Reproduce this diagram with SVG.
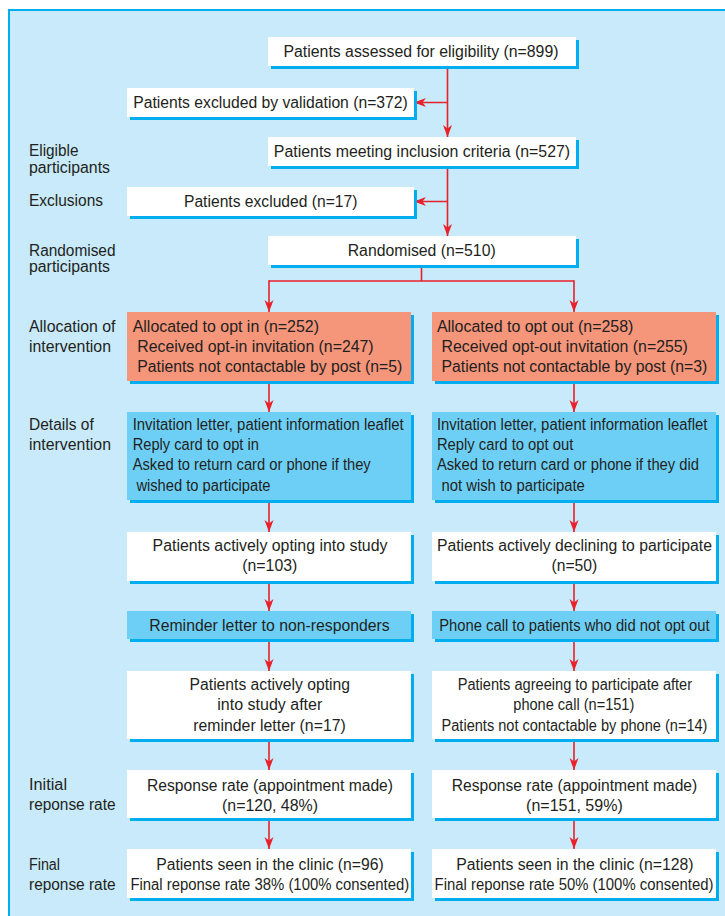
<svg xmlns="http://www.w3.org/2000/svg" width="725" height="916" viewBox="0 0 725 916">
<defs>
<style>
text{font-family:"Liberation Sans",Arial,sans-serif;font-size:16px;fill:#231f20}
.c{text-anchor:middle}
.sh{fill:#00aeef}
.w{fill:#ffffff}
.o{fill:#f5957a}
.b{fill:#6dcff6}
.ln{fill:none;stroke:#e8212b;stroke-width:1.6}
.ar{marker-end:url(#ah)}
</style>
<marker id="ah" viewBox="-13 -5 14 10" refX="0" refY="0" markerWidth="14" markerHeight="10" markerUnits="userSpaceOnUse" orient="auto">
<path d="M-12,-4.5 L0,0 L-12,4.5 L-8.5,0 z" fill="#e8212b"/>
</marker>
</defs>
<rect x="9" y="10" width="720" height="912" fill="#c8eafa" stroke="#00aeef" stroke-width="2"/>

<g id="labels">
<text x="29" y="155.5" textLength="49.5" lengthAdjust="spacingAndGlyphs">Eligible</text>
<text x="29" y="173" textLength="81" lengthAdjust="spacingAndGlyphs">participants</text>
<text x="29" y="206" textLength="74" lengthAdjust="spacingAndGlyphs">Exclusions</text>
<text x="29" y="255.5" textLength="86.5" lengthAdjust="spacingAndGlyphs">Randomised</text>
<text x="29" y="272" textLength="81" lengthAdjust="spacingAndGlyphs">participants</text>
<text x="29" y="331.5" textLength="86.5" lengthAdjust="spacingAndGlyphs">Allocation of</text>
<text x="29" y="351.5" textLength="82" lengthAdjust="spacingAndGlyphs">intervention</text>
<text x="29" y="429.5" textLength="64.7" lengthAdjust="spacingAndGlyphs">Details of</text>
<text x="29" y="450" textLength="82" lengthAdjust="spacingAndGlyphs">intervention</text>
<text x="29" y="789.5" textLength="38" lengthAdjust="spacingAndGlyphs">Initial</text>
<text x="29" y="809.5" textLength="86.5" lengthAdjust="spacingAndGlyphs">reponse rate</text>
<text x="29" y="869.5" textLength="31" lengthAdjust="spacingAndGlyphs">Final</text>
<text x="29" y="889.5" textLength="86.5" lengthAdjust="spacingAndGlyphs">reponse rate</text>
</g>

<g id="connectors">
<path class="ln ar" d="M447.5,66 V137"/>
<path class="ln ar" d="M447.5,102.5 H414"/>
<path class="ln ar" d="M447.5,166 V236"/>
<path class="ln ar" d="M447.5,201.5 H414"/>
<path class="ln" d="M421.5,265 V281 M269,281 H574"/>
<path class="ln ar" d="M269,280.2 V312"/>
<path class="ln ar" d="M574,280.2 V312"/>
<path class="ln ar" d="M269,381 V412"/>
<path class="ln ar" d="M574,381 V412"/>
<path class="ln ar" d="M269,500 V532"/>
<path class="ln ar" d="M574,500 V532"/>
<path class="ln ar" d="M269,581 V611"/>
<path class="ln ar" d="M574,581 V611"/>
<path class="ln ar" d="M269,639 V671"/>
<path class="ln ar" d="M574,639 V671"/>
<path class="ln ar" d="M269,739 V770"/>
<path class="ln ar" d="M574,739 V770"/>
<path class="ln ar" d="M269,818 V849"/>
<path class="ln ar" d="M574,818 V849"/>
</g>

<g id="n-assessed">
<rect class="sh" x="271" y="40" width="308" height="29"/>
<rect class="w" x="268" y="37" width="308" height="29"/>
<text class="c" x="421" y="57" textLength="275" lengthAdjust="spacingAndGlyphs">Patients assessed for eligibility (n=899)</text>
</g>
<g id="n-excl-valid">
<rect class="sh" x="130" y="91" width="287" height="29"/>
<rect class="w" x="127" y="88" width="287" height="29"/>
<text class="c" x="270.5" y="108" textLength="274.6" lengthAdjust="spacingAndGlyphs">Patients excluded by validation (n=372)</text>
</g>
<g id="n-inclusion">
<rect class="sh" x="271" y="140" width="308" height="29"/>
<rect class="w" x="268" y="137" width="308" height="29"/>
<text class="c" x="422" y="157" textLength="296.3" lengthAdjust="spacingAndGlyphs">Patients meeting inclusion criteria (n=527)</text>
</g>
<g id="n-excluded">
<rect class="sh" x="130" y="190" width="287" height="29"/>
<rect class="w" x="127" y="187" width="287" height="29"/>
<text class="c" x="270.7" y="207" textLength="173.4" lengthAdjust="spacingAndGlyphs">Patients excluded (n=17)</text>
</g>
<g id="n-randomised">
<rect class="sh" x="271" y="239" width="308" height="29"/>
<rect class="w" x="268" y="236" width="308" height="29"/>
<text class="c" x="421.7" y="256" textLength="148" lengthAdjust="spacingAndGlyphs">Randomised (n=510)</text>
</g>

<g id="n-alloc-in">
<rect class="sh" x="130" y="315" width="284" height="69"/>
<rect class="o" x="127" y="312" width="284" height="69"/>
<text x="132.7" y="332" textLength="186.3" lengthAdjust="spacingAndGlyphs">Allocated to opt in (n=252)</text>
<text x="137.3" y="352" textLength="236.3" lengthAdjust="spacingAndGlyphs">Received opt-in invitation (n=247)</text>
<text x="137.3" y="372" textLength="265" lengthAdjust="spacingAndGlyphs">Patients not contactable by post (n=5)</text>
</g>
<g id="n-alloc-out">
<rect class="sh" x="435" y="315" width="284" height="69"/>
<rect class="o" x="432" y="312" width="284" height="69"/>
<text x="436.9" y="332" textLength="196.5" lengthAdjust="spacingAndGlyphs">Allocated to opt out (n=258)</text>
<text x="441.5" y="352" textLength="246.4" lengthAdjust="spacingAndGlyphs">Received opt-out invitation (n=255)</text>
<text x="441.5" y="372" textLength="265.8" lengthAdjust="spacingAndGlyphs">Patients not contactable by post (n=3)</text>
</g>

<g id="n-details-in">
<rect class="sh" x="130" y="415" width="284" height="88"/>
<rect class="b" x="127" y="412" width="284" height="88"/>
<text x="132.7" y="429.5" textLength="271" lengthAdjust="spacingAndGlyphs">Invitation letter, patient information leaflet</text>
<text x="132.7" y="450" textLength="126.2" lengthAdjust="spacingAndGlyphs">Reply card to opt in</text>
<text x="132.7" y="470" textLength="238" lengthAdjust="spacingAndGlyphs">Asked to return card or phone if they</text>
<text x="136.4" y="490.5" textLength="134" lengthAdjust="spacingAndGlyphs">wished to participate</text>
</g>
<g id="n-details-out">
<rect class="sh" x="435" y="415" width="284" height="88"/>
<rect class="b" x="432" y="412" width="284" height="88"/>
<text x="436.9" y="429.5" textLength="270.5" lengthAdjust="spacingAndGlyphs">Invitation letter, patient information leaflet</text>
<text x="436.9" y="450" textLength="136.4" lengthAdjust="spacingAndGlyphs">Reply card to opt out</text>
<text x="436.9" y="470" textLength="262" lengthAdjust="spacingAndGlyphs">Asked to return card or phone if they did</text>
<text x="441.5" y="490.5" textLength="143.3" lengthAdjust="spacingAndGlyphs">not wish to participate</text>
</g>

<g id="n-opting">
<rect class="sh" x="130" y="535" width="284" height="49"/>
<rect class="w" x="127" y="532" width="284" height="49"/>
<text class="c" x="270" y="551" textLength="234.9" lengthAdjust="spacingAndGlyphs">Patients actively opting into study</text>
<text class="c" x="269.8" y="571" textLength="55" lengthAdjust="spacingAndGlyphs">(n=103)</text>
</g>
<g id="n-declining">
<rect class="sh" x="435" y="535" width="284" height="49"/>
<rect class="w" x="432" y="532" width="284" height="49"/>
<text class="c" x="574.4" y="551" textLength="275" lengthAdjust="spacingAndGlyphs">Patients actively declining to participate</text>
<text class="c" x="574.4" y="571" textLength="45.8" lengthAdjust="spacingAndGlyphs">(n=50)</text>
</g>

<g id="n-reminder">
<rect class="sh" x="130" y="614" width="284" height="28"/>
<rect class="b" x="127" y="611" width="284" height="28"/>
<text class="c" x="269.5" y="631" textLength="240.4" lengthAdjust="spacingAndGlyphs">Reminder letter to non-responders</text>
</g>
<g id="n-phonecall">
<rect class="sh" x="435" y="614" width="284" height="28"/>
<rect class="b" x="432" y="611" width="284" height="28"/>
<text class="c" x="574.4" y="631" textLength="270.5" lengthAdjust="spacingAndGlyphs">Phone call to patients who did not opt out</text>
</g>

<g id="n-after-reminder">
<rect class="sh" x="130" y="674" width="284" height="68"/>
<rect class="w" x="127" y="671" width="284" height="68"/>
<text class="c" x="269.8" y="689.5" textLength="160.4" lengthAdjust="spacingAndGlyphs">Patients actively opting</text>
<text class="c" x="269.8" y="710" textLength="105" lengthAdjust="spacingAndGlyphs">into study after</text>
<text class="c" x="269.5" y="731" textLength="152.5" lengthAdjust="spacingAndGlyphs">reminder letter (n=17)</text>
</g>
<g id="n-after-phone">
<rect class="sh" x="435" y="674" width="284" height="68"/>
<rect class="w" x="432" y="671" width="284" height="68"/>
<text class="c" x="574.9" y="689.5" textLength="234.4" lengthAdjust="spacingAndGlyphs">Patients agreeing to participate after</text>
<text class="c" x="573.8" y="710" textLength="121" lengthAdjust="spacingAndGlyphs">phone call (n=151)</text>
<text class="c" x="574.5" y="731" textLength="265.9" lengthAdjust="spacingAndGlyphs">Patients not contactable by phone (n=14)</text>
</g>

<g id="n-response-in">
<rect class="sh" x="130" y="773" width="284" height="48"/>
<rect class="w" x="127" y="770" width="284" height="48"/>
<text class="c" x="270" y="790.5" textLength="246" lengthAdjust="spacingAndGlyphs">Response rate (appointment made)</text>
<text class="c" x="270" y="811" textLength="96" lengthAdjust="spacingAndGlyphs">(n=120, 48%)</text>
</g>
<g id="n-response-out">
<rect class="sh" x="435" y="773" width="284" height="48"/>
<rect class="w" x="432" y="770" width="284" height="48"/>
<text class="c" x="574.5" y="790.5" textLength="245.5" lengthAdjust="spacingAndGlyphs">Response rate (appointment made)</text>
<text class="c" x="574.4" y="811" textLength="96.7" lengthAdjust="spacingAndGlyphs">(n=151, 59%)</text>
</g>

<g id="n-final-in">
<rect class="sh" x="130" y="852" width="284" height="49"/>
<rect class="w" x="127" y="849" width="284" height="49"/>
<text class="c" x="270" y="869.5" textLength="227.4" lengthAdjust="spacingAndGlyphs">Patients seen in the clinic (n=96)</text>
<text class="c" x="269.8" y="889.5" textLength="278.8" lengthAdjust="spacingAndGlyphs">Final reponse rate 38% (100% consented)</text>
</g>
<g id="n-final-out">
<rect class="sh" x="435" y="852" width="284" height="49"/>
<rect class="w" x="432" y="849" width="284" height="49"/>
<text class="c" x="574.9" y="869.5" textLength="237.2" lengthAdjust="spacingAndGlyphs">Patients seen in the clinic (n=128)</text>
<text class="c" x="574" y="889.5" textLength="278.8" lengthAdjust="spacingAndGlyphs">Final reponse rate 50% (100% consented)</text>
</g>
</svg>
